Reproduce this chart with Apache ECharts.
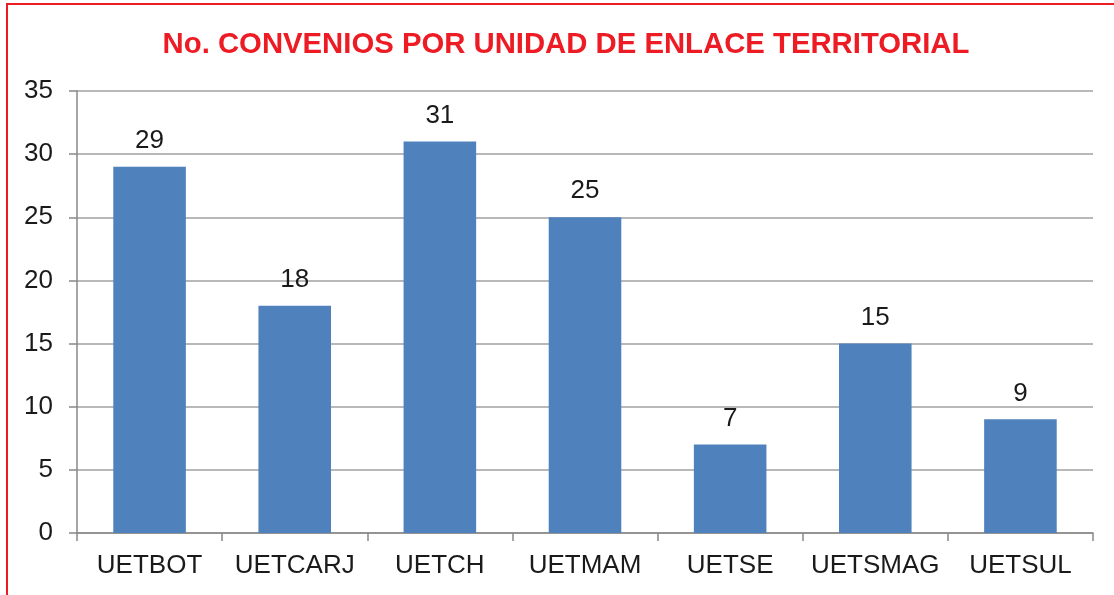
<!DOCTYPE html>
<html>
<head>
<meta charset="utf-8">
<script src="https://cdn.jsdelivr.net/npm/echarts@6/dist/echarts.min.js"></script>
<style>
html,body{margin:0;padding:0;background:#fff;}
#frame{position:absolute;left:6px;top:3px;width:1200px;height:700px;border-top:2px solid #ED1C24;border-left:2px solid #ED1C24;box-sizing:border-box;}
#chart{position:absolute;left:0;top:0;width:1114px;height:595px;}
</style>
</head>
<body>
<div id="frame"></div>
<div id="chart"></div>
<script>
const titleText = 'No. CONVENIOS POR UNIDAD DE ENLACE TERRITORIAL';
const categories = ['UETBOT','UETCARJ','UETCH','UETMAM','UETSE','UETSMAG','UETSUL'];
const values = [29, 18, 31, 25, 7, 15, 9];
const yTicks = {min: 0, max: 35, interval: 5};

const chart = echarts.init(document.getElementById('chart'), null, {renderer: 'canvas'});
const font = '"Liberation Sans", Arial, sans-serif';
chart.setOption({
  animation: false,
  title: {
    text: titleText,
    left: 561, top: 25, textAlign: 'center',
    textStyle: {color: '#ED1C24', fontFamily: font, fontWeight: 'bold', fontSize: 29.3}
  },
  grid: {left: 77, right: 21, top: 91, bottom: 62, containLabel: false},
  xAxis: {
    type: 'category',
    data: categories,
    axisLine: {lineStyle: {color: '#888', width: 1.5}},
    axisTick: {show: true, length: 8, alignWithLabel: false, lineStyle: {color: '#888', width: 1.5}},
    axisLabel: {color: '#1a1a1a', fontFamily: font, fontSize: 26, margin: 20, interval: 0}
  },
  yAxis: {
    type: 'value',
    min: yTicks.min, max: yTicks.max, interval: yTicks.interval,
    axisLine: {show: true, lineStyle: {color: '#888', width: 1.5}},
    axisTick: {show: true, length: 8, lineStyle: {color: '#888', width: 1.5}},
    axisLabel: {color: '#1a1a1a', fontFamily: font, fontSize: 26, margin: 24},
    splitLine: {lineStyle: {color: '#a0a0a0', width: 1.5}}
  },
  series: [{
    type: 'bar',
    data: values,
    barWidth: '50%',
    itemStyle: {color: '#4F81BD'},
    label: {show: true, position: 'top', distance: 13, color: '#1a1a1a', fontFamily: font, fontSize: 26}
  }]
});
</script>
</body>
</html>
